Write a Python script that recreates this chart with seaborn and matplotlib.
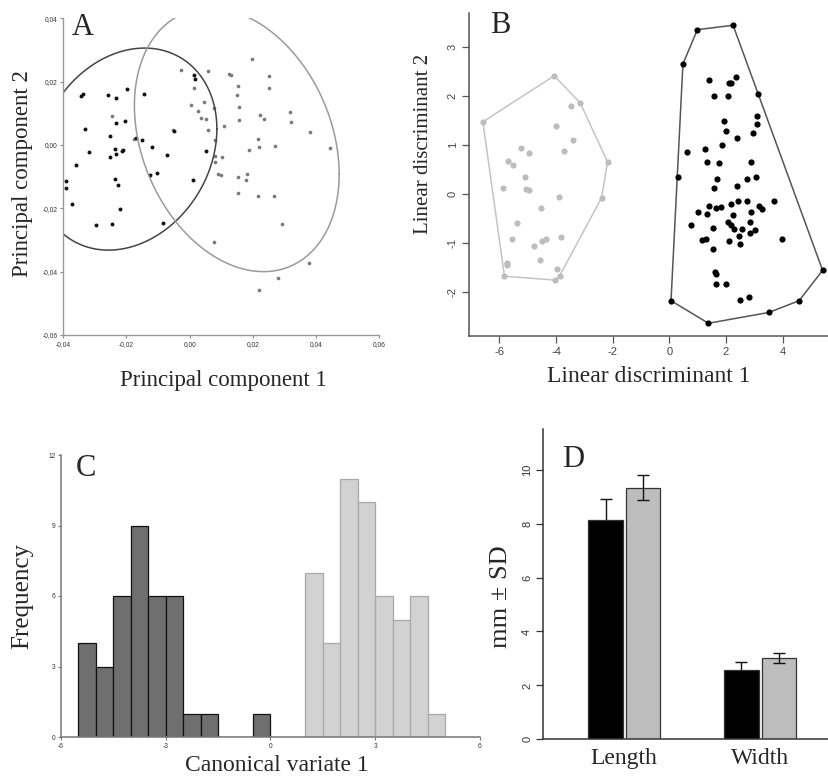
import numpy as np
import pandas as pd
import matplotlib
matplotlib.use("Agg")
import matplotlib.pyplot as plt
from matplotlib.ticker import FuncFormatter
import seaborn as sns

# ---------------- Panel A : PCA ----------------
pca_dark_pc1 = [-0.0390, -0.0390, -0.0371, -0.0360, -0.0338, -0.0343, -0.0331, -0.0318, -0.0297,
                -0.0258, -0.0252, -0.0251, -0.0245, -0.0237, -0.0235, -0.0233, -0.0233, -0.0232,
                -0.0227, -0.0220, -0.0215, -0.0212, -0.0204, -0.0197, -0.0171, -0.0152, -0.0145,
                -0.0120, -0.0126, -0.0103, -0.0083, -0.0071, -0.0051, 0.0009, 0.0014, 0.0017, 0.0050]
pca_dark_pc2 = [-0.0113, -0.0135, -0.0186, -0.0064, 0.0162, 0.0155, 0.0051, -0.0023, -0.0253,
                0.0157, 0.0029, -0.0039, -0.0248, -0.0012, -0.0106, 0.0068, -0.0028, 0.0147,
                -0.0125, -0.0201, -0.0019, -0.0016, 0.0076, 0.0176, 0.0022, 0.0015, 0.0161,
                -0.0005, -0.0094, -0.0089, -0.0247, -0.0031, 0.0044, -0.0112, 0.0221, 0.0208, -0.0018]
pca_light_pc1 = [-0.0246, -0.0177, -0.0053, -0.0026, 0.0005, 0.0013, 0.0025, 0.0035, 0.0044, 0.0053,
                 0.0059, 0.0059, 0.0081, 0.0076, 0.0079, 0.0080, 0.0090, 0.0098, 0.0101, 0.0108,
                 0.0124, 0.0132, 0.0150, 0.0154, 0.0156, 0.0156, 0.0152, 0.0154, 0.0182, 0.0179,
                 0.0189, 0.0197, 0.0216, 0.0215, 0.0220, 0.0222, 0.0236, 0.0251, 0.0251, 0.0270,
                 0.0266, 0.0292, 0.0316, 0.0322, 0.0382, 0.0445, 0.0376, 0.0278, 0.0220, 0.0076]
pca_light_pc2 = [0.0092, 0.0019, 0.0047, 0.0238, 0.0125, 0.0180, 0.0108, 0.0085, 0.0137, 0.0081,
                 0.0233, 0.0047, 0.0016, 0.0116, -0.0035, -0.0054, -0.0091, -0.0094, -0.0039, 0.0061,
                 0.0224, 0.0222, 0.0157, 0.0186, 0.0121, 0.0079, -0.0100, -0.0152, -0.0092, -0.0112,
                 -0.0015, 0.0272, 0.0019, -0.0160, -0.0007, 0.0094, 0.0083, 0.0218, 0.0180, -0.0002,
                 -0.0160, -0.0251, 0.0103, 0.0074, 0.0040, -0.0008, -0.0372, -0.0421, -0.0459, -0.0307]
# ellipses: centre x, centre y, half-extent along x and y, cos of phase shift (correlation)
ellipse_dark = [-0.0200, -0.0013, 0.0286, 0.0319, 0.20]
ellipse_light = [0.0149, 0.0016, 0.0324, 0.0416, -0.26]

# ---------------- Panel B : LDA ----------------
lda_light_ld1 = [-6.58, -4.06, -3.14, -3.47, -4.01, -3.41, -3.71, -2.18, -5.24, -4.96, -5.71, -5.51,
                 -5.09, -5.86, -5.07, -4.95, -3.88, -2.39, -4.52, -5.38, -5.56, -3.82, -4.36, -4.51,
                 -4.76, -4.55, -5.72, -5.74, -5.82, -3.98, -3.87, -4.02]
lda_light_ld2 = [1.48, 2.42, 1.86, 1.80, 1.40, 1.11, 0.89, 0.66, 0.95, 0.84, 0.69, 0.60,
                 0.36, 0.12, 0.10, 0.08, -0.06, -0.07, -0.27, -0.59, -0.92, -0.86, -0.91, -0.95,
                 -1.05, -1.34, -1.41, -1.44, -1.67, -1.52, -1.66, -1.75]
lda_dark_ld1 = [2.25, 0.99, 0.48, 3.14, 1.39, 2.35, 2.11, 2.16, 1.58, 2.08, 3.08, 3.11, 1.93, 2.00,
                2.96, 2.39, 1.86, 1.25, 0.64, 1.32, 1.74, 2.88, 0.32, 1.69, 3.06, 2.73, 2.38, 1.58,
                3.71, 1.40, 1.65, 1.81, 2.18, 2.44, 2.75, 3.15, 3.26, 1.02, 1.34, 2.89, 2.26, 0.78,
                2.08, 2.18, 2.86, 1.53, 2.28, 2.55, 3.01, 2.85, 1.16, 1.29, 2.11, 2.46, 2.49, 3.99,
                1.53, 1.60, 1.65, 1.64, 1.99, 2.51, 2.80, 5.41, 4.58, 3.51, 1.38, 0.06]
lda_dark_ld2 = [3.45, 3.36, 2.66, 2.04, 2.34, 2.40, 2.28, 2.28, 2.00, 2.00, 1.60, 1.44, 1.49, 1.30,
                1.25, 1.14, 1.01, 0.93, 0.87, 0.67, 0.63, 0.67, 0.35, 0.32, 0.35, 0.31, 0.18, 0.13,
                -0.13, -0.24, -0.27, -0.26, -0.20, -0.14, -0.14, -0.24, -0.29, -0.37, -0.40, -0.36,
                -0.43, -0.62, -0.57, -0.63, -0.57, -0.69, -0.70, -0.70, -0.73, -0.78, -0.93, -0.91,
                -0.95, -0.85, -1.01, -0.92, -1.11, -1.58, -1.63, -1.83, -1.83, -2.16, -2.10, -1.55,
                -2.17, -2.41, -2.63, -2.17]

# ---------------- Panel C : CVA histogram ----------------
cv_bin_left_dark = [-5.5, -5.0, -4.5, -4.0, -3.5, -3.0, -2.5, -2.0, -1.5, -1.0, -0.5]
cv_count_dark = [4, 3, 6, 9, 6, 6, 1, 1, 0, 0, 1]
cv_bin_left_light = [1.0, 1.5, 2.0, 2.5, 3.0, 3.5, 4.0, 4.5]
cv_count_light = [7, 4, 11, 10, 6, 5, 6, 1]
cv_bin_width = 0.5

# ---------------- Panel D : bars ----------------
traits = ["Length", "Width"]
mean_dark = [8.15, 2.57]
sd_dark = [0.76, 0.29]
mean_light = [9.33, 3.02]
sd_light = [0.46, 0.19]

SERIF = ["Liberation Serif", "DejaVu Serif"]
SANS = ["Liberation Sans", "DejaVu Sans"]

sns.set_style("ticks")
plt.rcParams["font.family"] = SANS
plt.rcParams["axes.unicode_minus"] = False

fig = plt.figure(figsize=(8.29, 7.81), dpi=100)
W, H = 829.0, 781.0


def add_axes_px(left, top, right, bottom):
    return fig.add_axes([left / W, 1 - bottom / H, (right - left) / W, (bottom - top) / H])


def style_spines(ax, color, lw=1.0):
    for s in ["top", "right"]:
        ax.spines[s].set_visible(False)
    for s in ["left", "bottom"]:
        ax.spines[s].set_color(color)
        ax.spines[s].set_linewidth(lw)


def hull(xs, ys):
    pts = sorted(set(zip(xs, ys)))

    def cross(o, a, b):
        return (a[0] - o[0]) * (b[1] - o[1]) - (a[1] - o[1]) * (b[0] - o[0])
    lower, upper = [], []
    for p in pts:
        while len(lower) >= 2 and cross(lower[-2], lower[-1], p) <= 0:
            lower.pop()
        lower.append(p)
    for p in reversed(pts):
        while len(upper) >= 2 and cross(upper[-2], upper[-1], p) <= 0:
            upper.pop()
        upper.append(p)
    h = lower[:-1] + upper[:-1]
    h.append(h[0])
    return [p[0] for p in h], [p[1] for p in h]


# ===== Panel A =====
axA = add_axes_px(63.3, 18.3, 379.3, 335.0)
sns.scatterplot(x=pca_light_pc1, y=pca_light_pc2, ax=axA, color="#7a7a7a", s=7, linewidth=0)
sns.scatterplot(x=pca_dark_pc1, y=pca_dark_pc2, ax=axA, color="#111111", s=8, linewidth=0)
t = np.linspace(0, 2 * np.pi, 400)
for e, col in [(ellipse_dark, "#444444"), (ellipse_light, "#9a9a9a")]:
    cx, cy, a, b, c = e
    d = np.arccos(c)
    axA.plot(cx + a * np.cos(t), cy + b * np.cos(t + d), color=col, lw=1.1)
axA.set_xlim(-0.04, 0.06)
axA.set_ylim(-0.06, 0.04)
axA.set_xticks([-0.04, -0.02, 0.0, 0.02, 0.04, 0.06])
axA.set_yticks([-0.06, -0.04, -0.02, 0.0, 0.02, 0.04])
fmt = FuncFormatter(lambda v, p: f"{round(v, 3) + 0.0:.2f}".replace(".", ","))
axA.xaxis.set_major_formatter(fmt)
axA.yaxis.set_major_formatter(fmt)
style_spines(axA, "#9a9a9a", 1.0)
axA.tick_params(labelsize=4.8, length=2.5, width=0.8, color="#888888", labelcolor="#333333", pad=1.5)
axA.set_xlabel("Principal component 1", family=SERIF, fontsize=16.5)
axA.set_ylabel("Principal component 2", family=SERIF, fontsize=16.5)
axA.xaxis.set_label_coords(0.505, -0.112)
axA.yaxis.set_label_coords(-0.096, 0.51)
axA.text(0.028, 0.947, "A", transform=axA.transAxes, family=SERIF, fontsize=22, va="baseline")

# ===== Panel B =====
axB = add_axes_px(469.0, 13.0, 828.0, 336.0)
hx, hy = hull(lda_light_ld1, lda_light_ld2)
axB.plot(hx, hy, color="#c4c4c4", lw=1.1)
hx, hy = hull(lda_dark_ld1, lda_dark_ld2)
axB.plot(hx, hy, color="#555555", lw=1.1)
sns.scatterplot(x=lda_light_ld1, y=lda_light_ld2, ax=axB, color="#bdbdbd", s=20, linewidth=0, zorder=3)
sns.scatterplot(x=lda_dark_ld1, y=lda_dark_ld2, ax=axB, color="#000000", s=20, linewidth=0, zorder=3)
axB.set_xlim(-7.07, 5.6)
axB.set_ylim(-2.89, 3.7)
axB.set_xticks([-6, -4, -2, 0, 2, 4])
axB.set_yticks([-2, -1, 0, 1, 2, 3])
style_spines(axB, "#555555", 1.1)
axB.tick_params(labelsize=8, length=5, width=0.9, color="#555555", labelcolor="#444444", pad=3)
for lab in axB.get_yticklabels():
    lab.set_rotation(90)
    lab.set_va("center")
axB.set_xlabel("Linear discriminant 1", family=SERIF, fontsize=17)
axB.set_ylabel("Linear discriminant 2", family=SERIF, fontsize=15)
axB.xaxis.set_label_coords(0.5, -0.092)
axB.yaxis.set_label_coords(-0.10, 0.596)
axB.text(0.058, 0.938, "B", transform=axB.transAxes, family=SERIF, fontsize=22, va="baseline")

# ===== Panel C =====
axC = add_axes_px(61.0, 455.0, 480.0, 737.0)
for lefts, counts, fc, ec in [(cv_bin_left_dark, cv_count_dark, "#6f6f6f", "#111111"),
                              (cv_bin_left_light, cv_count_light, "#d2d2d2", "#a8a8a8")]:
    edges = list(lefts) + [lefts[-1] + cv_bin_width]
    centers = [l + cv_bin_width / 2 for l in lefts]
    sns.histplot(x=centers, weights=counts, bins=edges, ax=axC, color=fc, edgecolor=ec,
                 alpha=1, linewidth=0.9)
axC.set_xlim(-6, 6)
axC.set_ylim(0, 12)
axC.set_xticks([-6, -3, 0, 3, 6])
axC.set_yticks([0, 3, 6, 9, 12])
style_spines(axC, "#777777", 1.1)
axC.tick_params(labelsize=4.8, length=2.5, width=0.8, color="#777777", labelcolor="#333333", pad=1.5)
axC.set_xlabel("Canonical variate 1", family=SERIF, fontsize=17)
axC.set_ylabel("Frequency", family=SERIF, fontsize=18)
axC.xaxis.set_label_coords(0.515, -0.065)
axC.yaxis.set_label_coords(-0.067, 0.5)
axC.text(0.036, 0.926, "C", transform=axC.transAxes, family=SERIF, fontsize=22, va="baseline")

# ===== Panel D =====
axD = add_axes_px(543.3, 429.3, 829.0, 739.3)
dfD = pd.DataFrame({
    "trait": traits * 2,
    "group": ["dark"] * len(traits) + ["light"] * len(traits),
    "mean": mean_dark + mean_light,
    "sd": sd_dark + sd_light,
})
sns.barplot(data=dfD, x="trait", y="mean", hue="group", palette=["#000000", "#bdbdbd"],
            width=0.55, gap=0.074, errorbar=None, legend=False, ax=axD,
            edgecolor="#333333", linewidth=0.9, saturation=1, zorder=2)
for cont, sds, zo in zip(axD.containers, [sd_dark, sd_light], [1, 4]):
    xs = [p.get_x() + p.get_width() / 2 for p in cont.patches]
    ys = [p.get_height() for p in cont.patches]
    axD.errorbar(xs, ys, yerr=sds, fmt="none", ecolor="#111111", elinewidth=1.0,
                 capsize=4, capthick=1.0, zorder=zo)
axD.set_xlim(-0.595, 1.506)
axD.set_ylim(0, 11.5)
axD.set_yticks([0, 2, 4, 6, 8, 10])
style_spines(axD, "#333333", 1.1)
axD.tick_params(axis="y", labelsize=8, length=5, width=0.9, color="#333333", labelcolor="#333333", pad=3)
axD.tick_params(axis="x", length=0, pad=6)
for lab in axD.get_yticklabels():
    lab.set_rotation(90)
    lab.set_va("center")
for lab in axD.get_xticklabels():
    lab.set_family(SERIF)
    lab.set_fontsize(17)
axD.set_xlabel("")
axD.set_ylabel("mm ± SD", family=SERIF, fontsize=19)
axD.yaxis.set_label_coords(-0.11, 0.46)
axD.text(0.065, 0.878, "D", transform=axD.transAxes, family=SERIF, fontsize=22, va="baseline")

fig.savefig("out.png", dpi=100)
